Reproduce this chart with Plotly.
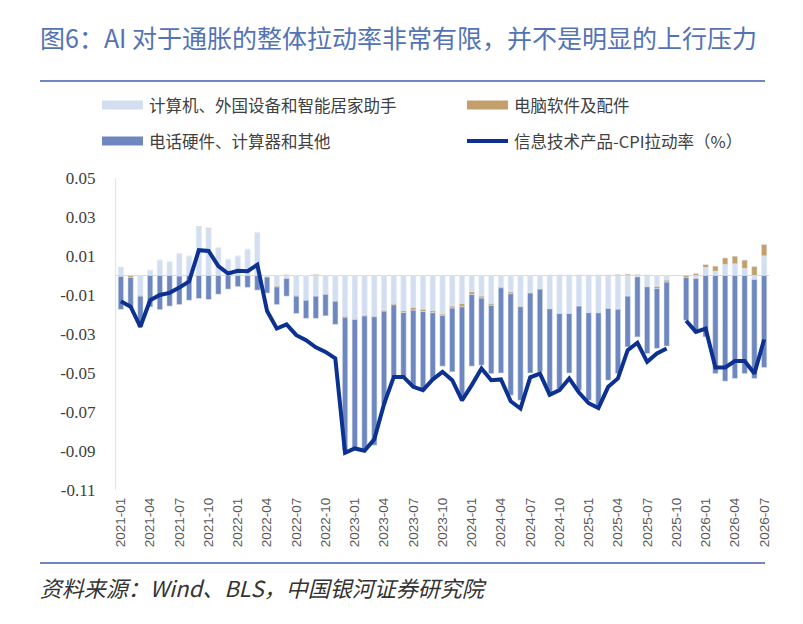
import plotly.graph_objects as go

# months 2021-01 .. 2026-07
months = [f"{y}-{m:02d}" for y in range(2021, 2027) for m in range(1, 13)][:67]

# 计算机、外国设备和智能居家助手
computers = [0.0044, 0.0, -0.0101, 0.0027, 0.0079, 0.0070, 0.0113, 0.0100, 0.0247, 0.0240,
             0.0142, 0.0084, 0.0100, 0.0135, 0.0220, -0.0006, -0.0053, -0.0015, -0.0101, -0.0127,
             -0.0106, -0.0092, -0.0132, -0.0209, -0.0222, -0.0203, -0.0209, -0.0178, -0.0144, -0.0181,
             -0.0164, -0.0173, -0.0181, -0.0198, -0.0157, -0.0144, -0.0084, -0.0106, -0.0144, -0.0058,
             -0.0084, -0.0156, -0.0087, -0.0067, -0.0171, -0.0195, -0.0195, -0.0157, -0.0191, -0.0191,
             -0.0169, -0.0173, -0.0106, -0.0007, -0.0058, -0.0056, -0.0024, None, 0.0, -0.0015,
             0.0041, 0.0022, 0.0056, 0.0060, 0.0036, -0.0020, 0.0101]

# 电脑软件及配件
software = [-0.0005, -0.0010, -0.0005, 0.0, 0.0, 0.0, -0.0003, 0.0, 0.0004, 0.0004,
            0.0, 0.0, 0.0, 0.0, 0.0, -0.0002, -0.0006, 0.0004, -0.0005, 0.0,
            0.0005, -0.0005, 0.0, -0.0005, -0.0003, -0.0005, -0.0003, -0.0005, -0.0007, -0.0009,
            -0.0014, -0.0012, -0.0010, -0.0007, -0.0010, -0.0017, -0.0014, -0.0010, -0.0009, -0.0005,
            -0.0009, -0.0005, -0.0003, -0.0003, 0.0003, 0.0003, 0.0003, 0.0003, 0.0003, 0.0003,
            0.0003, 0.0005, 0.0007, 0.0005, 0.0003, -0.0011, -0.0010, None, -0.0010, 0.0010,
            0.0015, 0.0026, 0.0034, 0.0039, 0.0043, 0.0046, 0.0058]

# 电话硬件、计算器和其他
phones = [-0.0169, -0.0155, -0.0157, -0.0161, -0.0175, -0.0157, -0.0146, -0.0127, -0.0118, -0.0123,
          -0.0096, -0.0070, -0.0057, -0.0061, -0.0075, -0.0082, -0.0090, -0.0091, -0.0089, -0.0093,
          -0.0114, -0.0110, -0.0119, -0.0682, -0.0664, -0.0684, -0.0658, -0.0477, -0.0369, -0.0330,
          -0.0392, -0.0403, -0.0346, -0.0260, -0.0327, -0.0462, -0.0367, -0.0344, -0.0350, -0.0437,
          -0.0521, -0.0479, -0.0410, -0.0424, -0.0443, -0.0385, -0.0305, -0.0431, -0.0449, -0.0474,
          -0.0368, -0.0330, -0.0260, -0.0308, -0.0342, -0.0307, -0.0328, None, -0.0220, -0.0280,
          -0.0315, -0.0503, -0.0542, -0.0528, -0.0503, -0.0508, -0.0472]

# 信息技术产品-CPI拉动率（%）
it_cpi = [-0.0132, -0.0160, -0.0263, -0.0127, -0.0100, -0.0089, -0.0062, -0.0030, 0.0130, 0.0126,
          0.0048, 0.0010, 0.0024, 0.0022, 0.0055, -0.0182, -0.0272, -0.0251, -0.0306, -0.0332,
          -0.0368, -0.0392, -0.0425, -0.0909, -0.0887, -0.0899, -0.0840, -0.0660, -0.0520, -0.0520,
          -0.0571, -0.0588, -0.0533, -0.0494, -0.0537, -0.0640, -0.0562, -0.0477, -0.0537, -0.0533,
          -0.0645, -0.0682, -0.0522, -0.0503, -0.0612, -0.0588, -0.0528, -0.0600, -0.0655, -0.0680,
          -0.0571, -0.0528, -0.0383, -0.0345, -0.0443, -0.0400, -0.0374, None, -0.0232, -0.0289,
          -0.0272, -0.0472, -0.0472, -0.0439, -0.0439, -0.0503, -0.0328]

yticks = [0.05, 0.03, 0.01, -0.01, -0.03, -0.05, -0.07, -0.09, -0.11]

c_light = "#D3DFF1"
c_tan = "#C29F6B"
c_mid = "#6E88BF"
c_line = "#0D3190"
cjk = "Noto Sans CJK SC"

# page has an 8px body margin, so figure pixel = screen pixel - 8
OFF = 8
W, H = 803 - 2 * OFF, 624 - 2 * OFF
# plot area in screen pixels, used for placing the hand-made legend / titles
X0, X1, Y0, Y1 = 116, 769, 178, 490
def px(x):
    return (x - X0) / (X1 - X0)
def py(y):
    return (Y1 - y) / (Y1 - Y0)

fig = go.Figure()
fig.add_bar(x=months, y=computers, marker_color=c_light, name="计算机、外国设备和智能居家助手")
fig.add_bar(x=months, y=software, marker_color=c_tan, name="电脑软件及配件")
fig.add_bar(x=months, y=phones, marker_color=c_mid, name="电话硬件、计算器和其他")
fig.add_scatter(x=months, y=it_cpi, mode="lines", line=dict(color=c_line, width=4),
                name="信息技术产品-CPI拉动率（%）")

fig.update_layout(
    width=W, height=H,
    margin=dict(l=X0 - OFF, r=W + OFF - X1, t=Y0 - OFF, b=H + OFF - Y1),
    paper_bgcolor="white", plot_bgcolor="white",
    barmode="relative", bargap=0.45,
    showlegend=False,
    font=dict(family=cjk, color="#404040"),
)
fig.update_xaxes(
    type="category", range=[-0.5, 66.5],
    tickvals=months[::3], ticktext=months[::3], tickangle=-90,
    tickfont=dict(family="Liberation Sans", size=13.5, color="#595959"),
    showgrid=False, showline=False, ticks="", ticklabelstandoff=4,
)
fig.update_yaxes(
    range=[-0.11, 0.05], tickvals=yticks, ticktext=[f"{v:.2f}" for v in yticks],
    tickfont=dict(family="Liberation Serif", size=17, color="#404040"),
    showgrid=False, zeroline=True, zerolinecolor="#D9D9D9", zerolinewidth=1,
    showline=True, linecolor="#E3E3E3", linewidth=1, ticks="", ticklabelstandoff=16,
)

shapes = [
    dict(type="line", xref="paper", yref="paper", x0=px(40), x1=px(765), y0=py(81), y1=py(81),
         line=dict(color="#6F87BF", width=2)),
    dict(type="line", xref="paper", yref="paper", x0=px(40), x1=px(765), y0=py(563), y1=py(563),
         line=dict(color="#6F87BF", width=2)),
]
annotations = [
    dict(text="图6：AI 对于通胀的整体拉动率非常有限，并不是明显的上行压力", x=px(38), y=py(37),
         xref="paper", yref="paper", xanchor="left", yanchor="middle", showarrow=False,
         font=dict(family=cjk, size=25, color="#5473B5")),
    dict(text="<i>资料来源：Wind、BLS，中国银河证券研究院</i>", x=px(38), y=py(587),
         xref="paper", yref="paper", xanchor="left", yanchor="middle", showarrow=False,
         font=dict(family=cjk, size=22, color="#333333")),
]

# legend, two columns like the original
legend_items = [
    ("计算机、外国设备和智能居家助手", c_light, "bar", 102, 105),
    ("电脑软件及配件", c_tan, "bar", 467, 105),
    ("电话硬件、计算器和其他", c_mid, "bar", 102, 141),
    ("信息技术产品-CPI拉动率（%）", c_line, "line", 467, 141),
]
for label, col, kind, lx, ly in legend_items:
    if kind == "bar":
        shapes.append(dict(type="rect", xref="paper", yref="paper", x0=px(lx), x1=px(lx + 41),
                           y0=py(ly - 4.5), y1=py(ly + 4.5), fillcolor=col, line=dict(width=0)))
    else:
        shapes.append(dict(type="line", xref="paper", yref="paper", x0=px(lx), x1=px(lx + 41),
                           y0=py(ly), y1=py(ly), line=dict(color=col, width=4)))
    annotations.append(dict(text=label, x=px(lx + 45), y=py(ly), xref="paper", yref="paper",
                            xanchor="left", yanchor="middle", showarrow=False,
                            font=dict(family=cjk, size=16.5, color="#404040")))

fig.update_layout(shapes=shapes, annotations=annotations)

fig.write_html("out.html")
